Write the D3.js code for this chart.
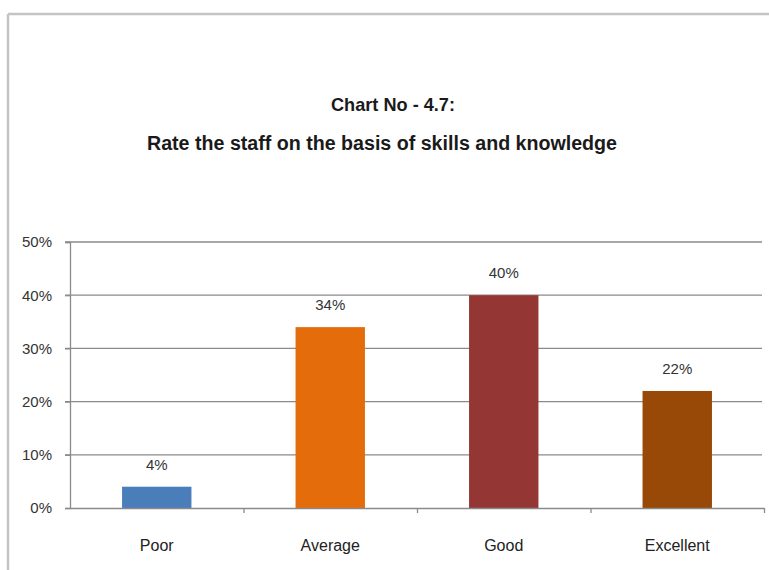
<!DOCTYPE html>
<html><head><meta charset="utf-8">
<script src="https://cdn.jsdelivr.net/npm/d3@7"></script>
<style>
html,body{margin:0;padding:0;background:#fff;}
svg text{font-family:"Liberation Sans Narrow","Arial Narrow","Liberation Sans",sans-serif;}
</style></head>
<body>
<svg id="chart" width="769" height="570"></svg>
<script>
const categories = ["Poor", "Average", "Good", "Excellent"];
const values = [0.04, 0.34, 0.40, 0.22];
const valueLabels = ["4%", "34%", "40%", "22%"];
const colors = ["#4a7ebb", "#e46c0a", "#943634", "#984807"];
const yTicks = [0, 0.1, 0.2, 0.3, 0.4, 0.5];
const titleLines = ["Chart No - 4.7:", "Rate the staff on the basis of skills and knowledge"];

const svg = d3.select("#chart");
const W = 769, H = 570;
const m = {left: 70, right: 5, top: 242, bottom: 62};

// chart frame
svg.append("line").attr("x1", 8).attr("x2", W).attr("y1", 14).attr("y2", 14)
  .attr("stroke", "#c4c4c4").attr("stroke-width", 2.5);
svg.append("line").attr("x1", 8).attr("x2", 8).attr("y1", 14).attr("y2", H)
  .attr("stroke", "#c4c4c4").attr("stroke-width", 2.5);

// titles
svg.append("text").attr("x", 393).attr("y", 111).attr("text-anchor", "middle")
  .attr("font-size", 19).attr("font-weight", "bold").attr("fill", "#1a1a1a")
  .attr("textLength", 124).attr("lengthAdjust", "spacingAndGlyphs").text(titleLines[0]);
svg.append("text").attr("x", 382).attr("y", 150).attr("text-anchor", "middle")
  .attr("font-size", 19.5).attr("font-weight", "bold").attr("fill", "#1a1a1a")
  .attr("textLength", 470).attr("lengthAdjust", "spacingAndGlyphs").text(titleLines[1]);

const x = d3.scaleBand().domain(categories).range([m.left, W - m.right]).paddingInner(0.6).paddingOuter(0.3);
const y = d3.scaleLinear().domain([0, 0.5]).range([H - m.bottom, m.top]);

// gridlines
svg.append("g").selectAll("line").data(yTicks.filter(d => d > 0)).join("line")
  .attr("x1", m.left - 5).attr("x2", W - 7)
  .attr("y1", d => y(d)).attr("y2", d => y(d))
  .attr("stroke", "#8a8a8a").attr("stroke-width", 1.3);

// y axis
const yAxis = svg.append("g").attr("transform", `translate(${m.left},0)`)
  .call(d3.axisLeft(y).tickValues(yTicks).tickFormat(d3.format(".0%")).tickSize(5).tickPadding(13));
yAxis.select(".domain").attr("stroke", "#8a8a8a").attr("stroke-width", 1.3);
yAxis.selectAll(".tick line").attr("stroke", "#8a8a8a").attr("stroke-width", 1.3);
yAxis.selectAll("text").attr("font-size", 15).attr("fill", "#333");

// bars
svg.append("g").selectAll("rect").data(values).join("rect")
  .attr("x", (d, i) => x(categories[i])).attr("width", x.bandwidth())
  .attr("y", d => y(d)).attr("height", d => y(0) - y(d))
  .attr("fill", (d, i) => colors[i]);

// x axis
const xb = d3.scaleLinear().domain([0, categories.length]).range([m.left, W - m.right]);
const xAxis = svg.append("g").attr("transform", `translate(0,${y(0)})`)
  .call(d3.axisBottom(xb).ticks(categories.length).tickFormat("").tickSize(5).tickSizeOuter(0));
xAxis.select(".domain").attr("stroke", "#8a8a8a").attr("stroke-width", 1.3);
xAxis.selectAll(".tick line").attr("stroke", "#8a8a8a").attr("stroke-width", 1.3);
xAxis.selectAll(".tick").filter(d => d === 0).remove();

svg.append("g").selectAll("text").data(categories).join("text")
  .attr("x", d => x(d) + x.bandwidth() / 2).attr("y", y(0) + 43)
  .attr("text-anchor", "middle").attr("font-size", 16).attr("fill", "#222").text(d => d);

// data labels
svg.append("g").selectAll("text").data(values).join("text")
  .attr("x", (d, i) => x(categories[i]) + x.bandwidth() / 2).attr("y", d => y(d) - 17)
  .attr("text-anchor", "middle").attr("font-size", 15).attr("fill", "#333")
  .text((d, i) => valueLabels[i]);
</script>
</body></html>
